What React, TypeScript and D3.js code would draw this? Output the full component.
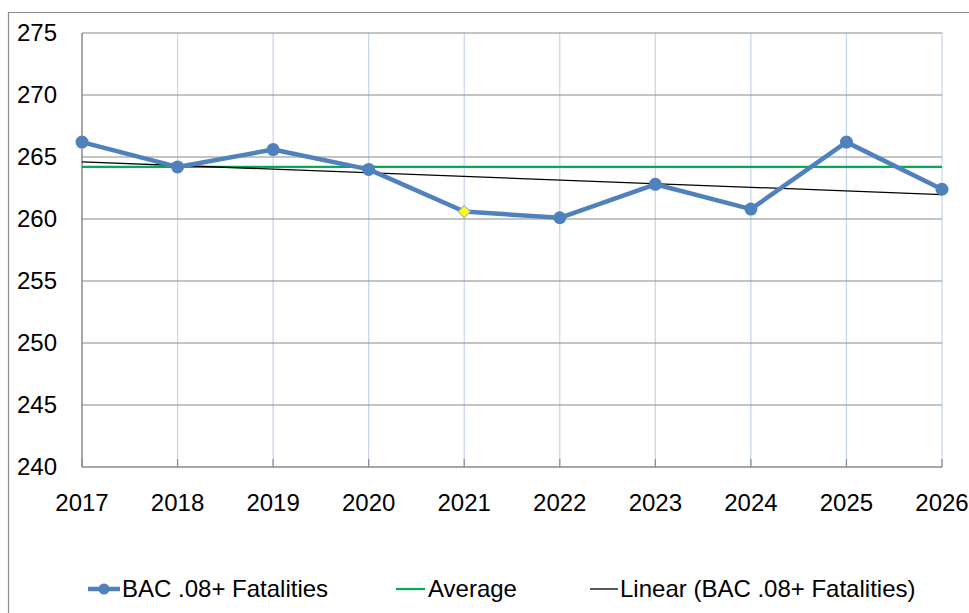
import { useEffect, useRef } from 'react';
import * as d3 from 'd3';

const years = ['2017', '2018', '2019', '2020', '2021', '2022', '2023', '2024', '2025', '2026'];
const fatalities = [266.2, 264.2, 265.6, 264.0, 260.6, 260.1, 262.8, 260.8, 266.2, 262.4];
const averageValue = 264.2;
const yTicks = [240, 245, 250, 255, 260, 265, 270, 275];
const highlightYear = '2021';
const legendLabels = ['BAC .08+ Fatalities', 'Average', 'Linear (BAC .08+ Fatalities)'];

const FONT = '"Liberation Sans", Arial, sans-serif';

export default function App() {
  const svgRef = useRef<SVGSVGElement>(null);

  useEffect(() => {
    if (!svgRef.current) return;
    const svg = d3.select(svgRef.current);
    svg.selectAll('*').remove();

    const width = 969;
    const height = 613;
    const margin = { top: 33, right: 27, bottom: 146, left: 82 };

    // frame
    svg
      .append('path')
      .attr('d', `M8.5,${height} V12.5 H${width}`)
      .attr('fill', 'none')
      .attr('stroke', '#8c8c8c')
      .attr('stroke-width', 1.2);

    const x = d3
      .scalePoint<string>()
      .domain(years)
      .range([margin.left, width - margin.right]);

    const y = d3
      .scaleLinear()
      .domain([240, 275])
      .range([height - margin.bottom, margin.top]);

    const g = svg.append('g');

    // vertical gridlines
    g.selectAll('.vgrid')
      .data(years.slice(1))
      .join('line')
      .attr('x1', (d) => x(d)!)
      .attr('x2', (d) => x(d)!)
      .attr('y1', y(275))
      .attr('y2', y(240))
      .attr('stroke', '#c6d5e8')
      .attr('stroke-width', 1.2);

    // horizontal gridlines
    g.selectAll('.hgrid')
      .data(yTicks.slice(1))
      .join('line')
      .attr('x1', margin.left)
      .attr('x2', width - margin.right)
      .attr('y1', (d) => y(d))
      .attr('y2', (d) => y(d))
      .attr('stroke', '#8a8a8a')
      .attr('stroke-width', 1.2);

    // axes lines
    g.append('line')
      .attr('x1', margin.left)
      .attr('x2', margin.left)
      .attr('y1', y(275))
      .attr('y2', y(240))
      .attr('stroke', '#8a8a8a')
      .attr('stroke-width', 1.5);
    g.append('line')
      .attr('x1', margin.left)
      .attr('x2', width - margin.right)
      .attr('y1', y(240))
      .attr('y2', y(240))
      .attr('stroke', '#8a8a8a')
      .attr('stroke-width', 1.5);

    // inner tick marks on x axis
    g.selectAll('.xtick')
      .data(years)
      .join('line')
      .attr('x1', (d) => x(d)!)
      .attr('x2', (d) => x(d)!)
      .attr('y1', y(240) - 8)
      .attr('y2', y(240))
      .attr('stroke', '#8a8a8a')
      .attr('stroke-width', 1.2);

    // y labels
    g.selectAll('.ylabel')
      .data(yTicks)
      .join('text')
      .attr('x', 57)
      .attr('y', (d) => y(d))
      .attr('dy', '0.35em')
      .attr('text-anchor', 'end')
      .attr('font-family', FONT)
      .attr('font-size', 24)
      .attr('fill', '#000')
      .text((d) => d);

    // x labels
    g.selectAll('.xlabel')
      .data(years)
      .join('text')
      .attr('x', (d) => x(d)!)
      .attr('y', 511)
      .attr('text-anchor', 'middle')
      .attr('font-family', FONT)
      .attr('font-size', 24)
      .attr('fill', '#000')
      .text((d) => d);

    // average
    g.append('line')
      .attr('x1', margin.left)
      .attr('x2', width - margin.right)
      .attr('y1', y(averageValue))
      .attr('y2', y(averageValue))
      .attr('stroke', '#00b050')
      .attr('stroke-width', 2.2);

    // linear trend (least squares)
    const idx = d3.range(fatalities.length);
    const mx = d3.mean(idx)!;
    const my = d3.mean(fatalities)!;
    const slope =
      d3.sum(idx, (i) => (i - mx) * (fatalities[i] - my)) / d3.sum(idx, (i) => (i - mx) ** 2);
    const intercept = my - slope * mx;
    g.append('line')
      .attr('x1', x(years[0])!)
      .attr('x2', x(years[years.length - 1])!)
      .attr('y1', y(intercept))
      .attr('y2', y(intercept + slope * (years.length - 1)))
      .attr('stroke', '#000')
      .attr('stroke-width', 1.3);

    // series line
    const line = d3
      .line<number>()
      .x((_, i) => x(years[i])!)
      .y((d) => y(d));
    g.append('path')
      .datum(fatalities)
      .attr('d', line)
      .attr('fill', 'none')
      .attr('stroke', '#4f81bd')
      .attr('stroke-width', 4.5)
      .attr('stroke-linejoin', 'round');

    // markers
    fatalities.forEach((v, i) => {
      const cx = x(years[i])!;
      const cy = y(v);
      if (years[i] === highlightYear) {
        const r = 6;
        g.append('path')
          .attr('d', `M0,${-r} L${r},0 L0,${r} L${-r},0 Z`)
          .attr('transform', `translate(${cx},${cy})`)
          .attr('fill', '#ffff00')
          .attr('stroke', '#9fb6d3')
          .attr('stroke-width', 1.2);
      } else {
        g.append('circle')
          .attr('cx', cx)
          .attr('cy', cy)
          .attr('r', 6.5)
          .attr('fill', '#4f81bd');
      }
    });

    // legend
    const ly = 589;
    const legend = svg.append('g');
    legend
      .append('line')
      .attr('x1', 88)
      .attr('x2', 120)
      .attr('y1', ly)
      .attr('y2', ly)
      .attr('stroke', '#4f81bd')
      .attr('stroke-width', 4.5);
    legend.append('circle').attr('cx', 104).attr('cy', ly).attr('r', 5.5).attr('fill', '#4f81bd');
    legend
      .append('line')
      .attr('x1', 396)
      .attr('x2', 425)
      .attr('y1', ly)
      .attr('y2', ly)
      .attr('stroke', '#00b050')
      .attr('stroke-width', 2.2);
    legend
      .append('line')
      .attr('x1', 590)
      .attr('x2', 618)
      .attr('y1', ly)
      .attr('y2', ly)
      .attr('stroke', '#000')
      .attr('stroke-width', 1.3);
    const textX = [122, 428, 620];
    legendLabels.forEach((t, i) => {
      legend
        .append('text')
        .attr('x', textX[i])
        .attr('y', 597)
        .attr('font-family', FONT)
        .attr('font-size', 24)
        .attr('fill', '#000')
        .text(t);
    });
  }, []);

  return (
    <svg
      ref={svgRef}
      width={969}
      height={613}
      style={{ position: 'absolute', left: 0, top: 0, background: '#fff' }}
    />
  );
}
